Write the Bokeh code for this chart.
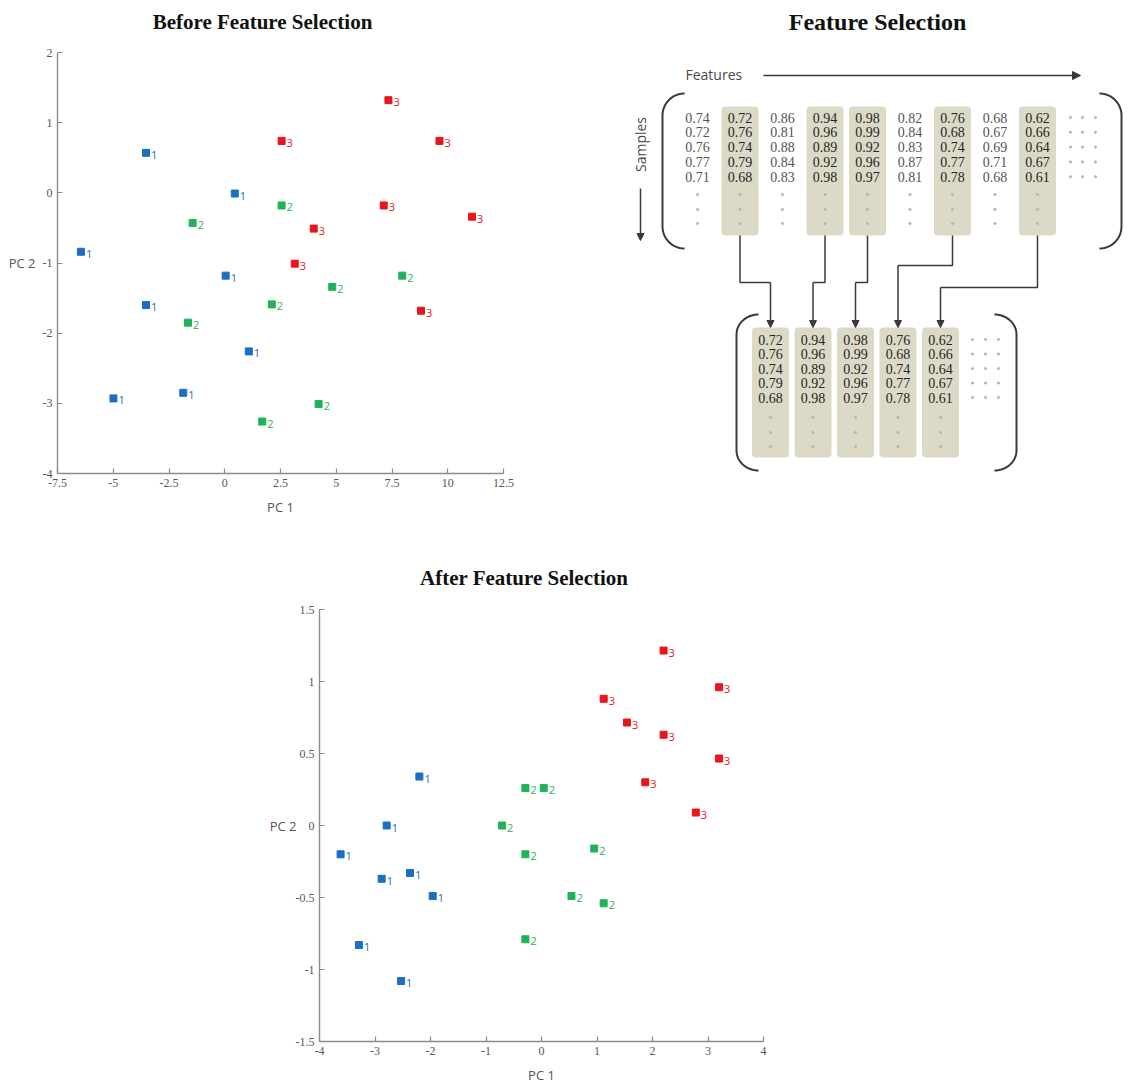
import numpy as np
from bokeh.plotting import figure
from bokeh.layouts import column, row
from bokeh.models import Range1d, FixedTicker, Arrow, NormalHead
from bokeh.core.properties import value
from bokeh.embed import file_html
from bokeh.resources import INLINE

# ---------------------------------------------------------------- data
class_names = ["1", "2", "3"]
class_colors = ["#1a6fc4", "#1fb25a", "#e8151d"]

# PCA scores on all features
before_pc1_c1 = [-3.53, 0.45, -6.45, 0.04, -3.53, 1.08, -1.86, -4.99]
before_pc2_c1 = [0.57, -0.01, -0.84, -1.18, -1.60, -2.26, -2.85, -2.93]
before_pc1_c2 = [2.55, -1.44, 7.96, 4.82, 2.11, -1.65, 4.21, 1.68]
before_pc2_c2 = [-0.18, -0.43, -1.18, -1.34, -1.59, -1.85, -3.01, -3.26]
before_pc1_c3 = [7.34, 2.55, 9.63, 7.13, 11.09, 3.99, 3.14, 8.80]
before_pc2_c3 = [1.32, 0.74, 0.74, -0.18, -0.34, -0.51, -1.01, -1.68]

# PCA scores on the selected features
after_pc1_c1 = [-2.20, -2.79, -3.62, -2.37, -2.88, -1.96, -3.29, -2.53]
after_pc2_c1 = [0.34, 0.00, -0.20, -0.33, -0.37, -0.49, -0.83, -1.08]
after_pc1_c2 = [-0.29, 0.04, -0.71, -0.29, 0.95, 0.54, 1.12, -0.29]
after_pc2_c2 = [0.26, 0.26, 0.00, -0.20, -0.16, -0.49, -0.54, -0.79]
after_pc1_c3 = [2.20, 3.20, 1.12, 1.54, 2.20, 3.20, 1.87, 2.78]
after_pc2_c3 = [1.215, 0.96, 0.88, 0.715, 0.63, 0.465, 0.30, 0.09]

before_x_ticks = [-7.5, -5, -2.5, 0, 2.5, 5, 7.5, 10, 12.5]
before_x_tick_labels = ["-7.5", "-5", "-2.5", "0", "2.5", "5", "7.5", "10", "12.5"]
before_y_ticks = [-4, -3, -2, -1, 0, 1, 2]
before_y_tick_labels = ["-4", "-3", "-2", "-1", "0", "1", "2"]

after_x_ticks = [-4, -3, -2, -1, 0, 1, 2, 3, 4]
after_x_tick_labels = ["-4", "-3", "-2", "-1", "0", "1", "2", "3", "4"]
after_y_ticks = [-1.5, -1, -0.5, 0, 0.5, 1, 1.5]
after_y_tick_labels = ["-1.5", "-1", "-0.5", "0", "0.5", "1", "1.5"]

# samples x features matrix, one list per feature column
feature_columns = [
    ["0.74", "0.72", "0.76", "0.77", "0.71"],
    ["0.72", "0.76", "0.74", "0.79", "0.68"],
    ["0.86", "0.81", "0.88", "0.84", "0.83"],
    ["0.94", "0.96", "0.89", "0.92", "0.98"],
    ["0.98", "0.99", "0.92", "0.96", "0.97"],
    ["0.82", "0.84", "0.83", "0.87", "0.81"],
    ["0.76", "0.68", "0.74", "0.77", "0.78"],
    ["0.68", "0.67", "0.69", "0.71", "0.68"],
    ["0.62", "0.66", "0.64", "0.67", "0.61"],
]
selected_features = [1, 3, 4, 6, 8]

# ---------------------------------------------------------------- style
AXIS_GREY = "#8c8c8c"
LABEL_GREY = "#555555"
SERIF = "Liberation Serif"
SANS = "Open Sans"
INK = "#3a3a3a"
BOX_FILL = "#dcd9c6"


def blank_canvas(width, height, x0, y0, border_top=0, border_bottom=0):
    """Axis-less figure whose data units are page pixels (y grows downward)."""
    f = figure(width=width, height=height,
               x_range=Range1d(x0, x0 + width),
               y_range=Range1d(y0 + height - border_bottom, y0 + border_top),
               output_backend="svg", toolbar_location=None,
               min_border_left=0, min_border_right=0,
               min_border_top=border_top, min_border_bottom=border_bottom,
               x_axis_location=None, y_axis_location=None)
    f.outline_line_color = None
    f.grid.visible = False
    f.background_fill_color = "white"
    f.border_fill_color = "white"
    return f


def heading(f, x, y, text, size):
    f.text([x], [y], text=[text], text_font=value(SERIF), text_font_style="bold",
           text_font_size=size, text_color="#111111",
           text_align="center", text_baseline="middle")


def scatter_panel(width, height, frame, xr, yr, xticks, xlabels, yticks, ylabels,
                  xs, ys, ylabel_standoff):
    left, top, right, bottom = frame
    p = figure(width=width, height=height,
               x_range=Range1d(*xr), y_range=Range1d(*yr),
               output_backend="svg", toolbar_location=None,
               min_border_left=left, min_border_right=width - right,
               min_border_top=top, min_border_bottom=height - bottom)
    p.outline_line_color = None
    p.grid.visible = False
    p.background_fill_color = "white"
    p.border_fill_color = "white"

    p.xaxis.ticker = FixedTicker(ticks=xticks)
    p.yaxis.ticker = FixedTicker(ticks=yticks)
    p.xaxis.major_label_overrides = dict(zip(xticks, xlabels))
    p.yaxis.major_label_overrides = dict(zip(yticks, ylabels))
    for ax in (p.xaxis[0], p.yaxis[0]):
        ax.axis_line_color = AXIS_GREY
        ax.axis_line_width = 1.4
        ax.major_tick_line_color = AXIS_GREY
        ax.major_tick_line_width = 1.2
        ax.major_tick_in = 5
        ax.major_tick_out = 0
        ax.minor_tick_line_color = None
        ax.major_label_text_font = SERIF
        ax.major_label_text_font_size = "12px"
        ax.major_label_text_color = LABEL_GREY
        ax.major_label_standoff = 5
        ax.axis_label_text_font = SANS
        ax.axis_label_text_font_style = "normal"
        ax.axis_label_text_font_size = "13px"
        ax.axis_label_text_color = LABEL_GREY
    p.xaxis.axis_label = "PC 1"
    p.xaxis.axis_label_standoff = 8

    yax = p.yaxis[0]
    try:
        yax.axis_label_orientation = "horizontal"
    except AttributeError:
        pass
    yax.axis_label = "PC 2"
    yax.axis_label_standoff = ylabel_standoff

    for name, color, x, y in zip(class_names, class_colors, xs, ys):
        p.scatter(x, y, marker="square", size=7, fill_color=color, line_color=color)
        p.text(x, y, text=[name] * len(x), x_offset=5, y_offset=2,
               text_font=value(SANS), text_font_size="11px", text_color=color,
               text_align="left", text_baseline="middle")
    return p


# ---------------------------------------------------------------- headings
TOP_HEAD_H = 44
t_left = blank_canvas(600, TOP_HEAD_H, 0, 0)
heading(t_left, 262, 21, "Before Feature Selection", "21px")
t_right = blank_canvas(528, TOP_HEAD_H, 600, 0)
heading(t_right, 877, 21, "Feature Selection", "24px")

BOTTOM_HEAD_H = 71
t_bottom = blank_canvas(1128, BOTTOM_HEAD_H, 0, 530)
heading(t_bottom, 520, 577, "After Feature Selection", "21px")

# ---------------------------------------------------------------- before
p_before = scatter_panel(
    600, 530 - TOP_HEAD_H, (57, 8, 503, 429), (-7.5, 12.5), (-4, 2),
    before_x_ticks, before_x_tick_labels, before_y_ticks, before_y_tick_labels,
    [before_pc1_c1, before_pc1_c2, before_pc1_c3],
    [before_pc2_c1, before_pc2_c2, before_pc2_c3], 4)

# ---------------------------------------------------------------- after
p_after = scatter_panel(
    1128, 556 - BOTTOM_HEAD_H, (319, 8, 763, 440), (-4, 4), (-1.5, 1.5),
    after_x_ticks, after_x_tick_labels, after_y_ticks, after_y_tick_labels,
    [after_pc1_c1, after_pc1_c2, after_pc1_c3],
    [after_pc2_c1, after_pc2_c2, after_pc2_c3], -4)

# ---------------------------------------------------------------- diagram
# Same vertical borders as the left panel; data units are page pixels.
d = blank_canvas(528, 530 - TOP_HEAD_H, 600, TOP_HEAD_H, border_top=8, border_bottom=57)

# axis hints
d.text([685], [74], text=["Features"], text_font=value(SANS),
       text_font_size="14px", text_color="#4a4a4a",
       text_align="left", text_baseline="middle")
d.add_layout(Arrow(end=NormalHead(size=8, fill_color=INK, line_color=INK),
                   x_start=763, y_start=75, x_end=1080, y_end=75,
                   line_color=INK, line_width=1.5))
d.text([640], [144], text=["Samples"], angle=np.pi / 2,
       text_font=value(SANS), text_font_size="14px", text_color="#4a4a4a",
       text_align="center", text_baseline="middle")
d.add_layout(Arrow(end=NormalHead(size=7, fill_color=INK, line_color=INK),
                   x_start=640, y_start=188, x_end=640, y_end=240,
                   line_color=INK, line_width=1.5))


def bracket(x_edge, x_tip, y_top, y_bot, r):
    t = np.linspace(0, np.pi / 2, 16)
    dx = x_tip - x_edge
    top_x = x_tip - dx * np.sin(t)
    top_y = y_top + r - r * np.cos(t)
    bot_x = x_tip - dx * np.cos(t)
    bot_y = y_bot - r + r * np.sin(t)
    return list(np.concatenate([top_x, bot_x])), list(np.concatenate([top_y, bot_y]))


def rounded_boxes(centers, top, bottom, half_w):
    kw = dict(left=[c - half_w for c in centers], right=[c + half_w for c in centers],
              top=[top] * len(centers), bottom=[bottom] * len(centers),
              fill_color=BOX_FILL, line_color=None)
    try:
        d.quad(border_radius=4, **kw)
    except AttributeError:
        d.quad(**kw)


n_rows = len(feature_columns[0])

# full matrix
top_cx = [697 + 42.5 * i for i in range(len(feature_columns))]
top_rows = [117 + 14.8 * r for r in range(n_rows)]
top_dot_rows = [194, 209, 223]
rounded_boxes([top_cx[i] for i in selected_features], 106, 235, 18.5)

tx, ty, tt, tc = [], [], [], []
for i, col in enumerate(feature_columns):
    for r, v in enumerate(col):
        tx.append(top_cx[i]); ty.append(top_rows[r]); tt.append(v)
        tc.append("#262626" if i in selected_features else "#555555")
d.text(tx, ty, text=tt, text_color=tc, text_font=value(SERIF),
       text_font_size="14px", text_align="center", text_baseline="middle")

dx_, dy_ = [], []
for c in top_cx:
    for yy in top_dot_rows:
        dx_.append(c); dy_.append(yy)
for yy in top_rows:
    for xx in (1070, 1082, 1095):
        dx_.append(xx); dy_.append(yy)
d.scatter(dx_, dy_, marker="circle", size=2.2, color="#b5b5b5")

bx, by = bracket(662, 684, 93, 248, 22)
d.line(bx, by, line_color=INK, line_width=2)
bx, by = bracket(1121, 1099, 93, 248, 22)
d.line(bx, by, line_color=INK, line_width=2)

# reduced matrix
sel_cx = [770 + 42.5 * k for k in range(len(selected_features))]
sel_rows = [339 + 14.5 * r for r in range(n_rows)]
sel_dot_rows = [417, 432, 446]
rounded_boxes(sel_cx, 327, 457, 18.5)

sx, sy, st = [], [], []
for k, i in enumerate(selected_features):
    for r, v in enumerate(feature_columns[i]):
        sx.append(sel_cx[k]); sy.append(sel_rows[r]); st.append(v)
d.text(sx, sy, text=st, text_color="#262626", text_font=value(SERIF),
       text_font_size="14px", text_align="center", text_baseline="middle")

dx_, dy_ = [], []
for c in sel_cx:
    for yy in sel_dot_rows:
        dx_.append(c); dy_.append(yy)
for yy in sel_rows:
    for xx in (972, 985, 998):
        dx_.append(xx); dy_.append(yy)
d.scatter(dx_, dy_, marker="circle", size=2.2, color="#b5b5b5")

bx, by = bracket(736, 758, 314, 470, 20)
d.line(bx, by, line_color=INK, line_width=2)
bx, by = bracket(1016, 994, 314, 470, 20)
d.line(bx, by, line_color=INK, line_width=2)

# connectors from each selected column to its slot in the reduced matrix
elbows = [282, 282, 282, 265, 287]
for k, i in enumerate(selected_features):
    x_top, x_bot, ye = top_cx[i], sel_cx[k], elbows[k]
    d.line([x_top, x_top, x_bot], [235, ye, ye], line_color=INK, line_width=1.5)
    d.add_layout(Arrow(end=NormalHead(size=7, fill_color=INK, line_color=INK),
                       x_start=x_bot, y_start=ye, x_end=x_bot, y_end=327,
                       line_color=INK, line_width=1.5))

layout = column(row(t_left, t_right), row(p_before, d), t_bottom, p_after)
open("out.html", "w").write(file_html(layout, INLINE))
